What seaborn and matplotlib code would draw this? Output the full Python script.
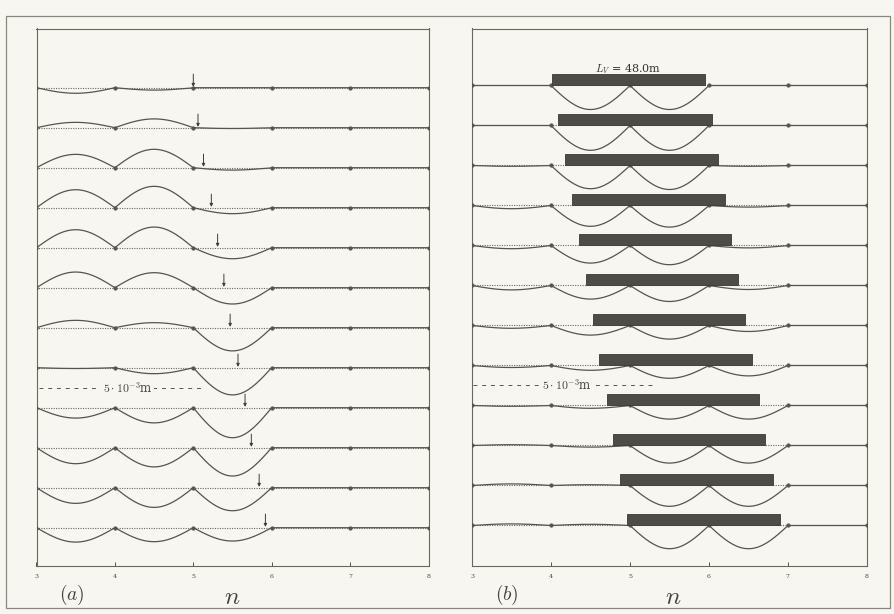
import numpy as np
import pandas as pd
import matplotlib
matplotlib.use("Agg")
import matplotlib.pyplot as plt
import seaborn as sns
from matplotlib.patches import Rectangle

sns.set_theme(style="white")
plt.rcParams["font.family"] = ["DejaVu Serif"]
plt.rcParams["mathtext.fontset"] = "cm"

# ---------------- data ----------------
supports = [3, 4, 5, 6, 7, 8]
tick_labels = ["3", "4", "5", "6", "7", "8"]
n_rows = 12
row_step = 5.0  # mm between successive snapshots

# panel (a): span deflection amplitudes (mm, + up) per snapshot
a_span34 = [-0.7, 0.67, 1.67, 2.25, 2.25, 1.96, 0.92, -0.1, -1.3, -2.0, -1.96, -1.8]
a_span45 = [-0.3, 1.1, 2.3, 2.67, 2.58, 1.88, 0.63, -0.75, -1.9, -2.4, -2.46, -1.75]
a_span56 = [0.0, -0.1, -0.3, -0.75, -1.38, -2.04, -2.9, -3.4, -3.75, -3.54, -2.88, -1.67]
a_span67 = [0.0] * 12
a_span78 = [0.0] * 12
a_load_pos = [5.0, 5.06, 5.13, 5.23, 5.31, 5.39, 5.47, 5.57, 5.66, 5.74, 5.84, 5.92]

# panel (b)
b_span34 = [0.0, 0.0, -0.1, -0.4, -0.4, -0.55, -0.35, -0.25, -0.1, 0.1, 0.2, 0.2]
b_span45 = [-3.0, -3.1, -2.9, -2.6, -2.2, -1.7, -1.2, -0.6, -0.35, -0.2, 0.1, 0.15]
b_span56 = [-3.0, -3.1, -3.0, -2.7, -2.4, -2.0, -1.7, -1.6, -1.7, -2.2, -2.6, -2.9]
b_span67 = [0.0, 0.0, -0.1, -0.2, -0.3, -0.5, -0.75, -1.3, -1.7, -2.2, -2.6, -2.9]
b_span78 = [0.0] * 12
b_veh_start = [4.01, 4.09, 4.18, 4.26, 4.35, 4.44, 4.53, 4.61, 4.71, 4.78, 4.87, 4.96]
b_veh_end = [5.95, 6.04, 6.12, 6.20, 6.28, 6.37, 6.45, 6.54, 6.63, 6.71, 6.81, 6.90]
veh_label = r"$L_V$ = 48.0m"
scale_label = r"$5\cdot10^{-3}$m"

# ---------------- style ----------------
BG = "#f7f6f0"
LC = "#57544c"
BAR = "#4e4c47"
plt.rcParams["axes.facecolor"] = BG
plt.rcParams["figure.facecolor"] = BG


def curves(spans):
    recs = []
    t = np.linspace(0, 1, 41)
    for r in range(n_rows):
        base = -row_step * r
        for s, amps in enumerate(spans):
            x0 = supports[s]
            for ti in t:
                recs.append({"row": r, "n": x0 + ti, "y": base + amps[r] * np.sin(np.pi * ti)})
    return pd.DataFrame(recs)


fig = plt.figure(figsize=(8.94, 6.14), dpi=100)
W, H = 894, 614


def axpos(l, r, t, b):
    return [l / W, 1 - b / H, (r - l) / W, (b - t) / H]


ax_a = fig.add_axes(axpos(36.5, 428.5, 28.5, 566))
ax_b = fig.add_axes(axpos(472, 867, 28.5, 566))

panels = [
    (ax_a, [a_span34, a_span45, a_span56, a_span67, a_span78], 87.7),
    (ax_b, [b_span34, b_span45, b_span56, b_span67, b_span78], 85.5),
]

for ax, spans, base_px in panels:
    df = curves(spans)
    # dotted reference lines
    for r in range(n_rows):
        base = -row_step * r
        ax.plot([3, 8], [base, base], ls=(0, (1, 1.2)), lw=0.8, color="#6b685f", zorder=1)
    sns.lineplot(data=df, x="n", y="y", units="row", estimator=None, sort=False,
                 color=LC, lw=0.9, ax=ax, zorder=3, legend=False)
    sup = pd.DataFrame([{"n": s, "y": -row_step * r} for r in range(n_rows) for s in supports])
    sns.scatterplot(data=sup, x="n", y="y", s=7, color=LC, edgecolor=LC, linewidth=0.3,
                    ax=ax, zorder=4, legend=False)
    ax.set_xlim(3, 8)
    ax.set_ylim(-(566 - base_px) / 8.0, (base_px - 28.5) / 8.0)
    ax.set_xticks(supports)
    ax.set_xticklabels(tick_labels)
    ax.set_yticks([])
    ax.set_xlabel("")
    ax.set_ylabel("")
    ax.tick_params(axis="x", direction="in", length=3, width=0.7, color=LC,
                   labelsize=4.5, pad=6, labelcolor="#444", bottom=True)
    for sp in ax.spines.values():
        sp.set_color("#6a675e")
        sp.set_linewidth(0.8)

# arrows for the moving load in (a)
for r, xp in enumerate(a_load_pos):
    base = -row_step * r
    ax_a.annotate("", xy=(xp, base + 0.1), xytext=(xp, base + 1.7),
                  arrowprops=dict(arrowstyle="-|>", lw=0.7, color="#3f3d38",
                                  mutation_scale=4.5, shrinkA=0, shrinkB=0), zorder=5)

# vehicle bars in (b)
bases = [-row_step * r for r in range(n_rows)]
widths = [e - s for s, e in zip(b_veh_start, b_veh_end)]
ax_b.barh([b + 0.7 for b in bases], widths, left=b_veh_start, height=1.4,
          color=BAR, edgecolor="#3a3935", lw=0.6, zorder=6)
ax_b.text(4.98, 2.1, veh_label, ha="center", va="center", fontsize=8, color="#333")

# scale bars
for ax, x0, x1, xc, yv in [(ax_a, 3.03, 5.13, 4.16, -37.5), (ax_b, 3.01, 5.28, 4.20, -37.4)]:
    ax.plot([x0, x1], [yv, yv], ls=(0, (4, 5)), lw=0.7, color=LC, zorder=2)
    ax.text(xc, yv, scale_label, ha="center", va="center", fontsize=8.5, color="#444",
            bbox=dict(fc=BG, ec="none", pad=1.5), zorder=3)

# panel labels
fig.text(72 / W, 1 - 595 / H, r"$(a)$", ha="center", va="center", fontsize=14, color="#444")
fig.text(232 / W, 1 - 597 / H, r"$n$", ha="center", va="center", fontsize=18, color="#444")
fig.text(507 / W, 1 - 595 / H, r"$(b)$", ha="center", va="center", fontsize=14, color="#444")
fig.text(673 / W, 1 - 597 / H, r"$n$", ha="center", va="center", fontsize=18, color="#444")

# outer frame
fig.add_artist(Rectangle((6 / W, 1 - 608 / H), (890 - 6) / W, (608 - 16) / H,
                         transform=fig.transFigure, fill=False, ec="#8a877e", lw=0.9))

fig.savefig("out.png", dpi=100, facecolor=BG)
